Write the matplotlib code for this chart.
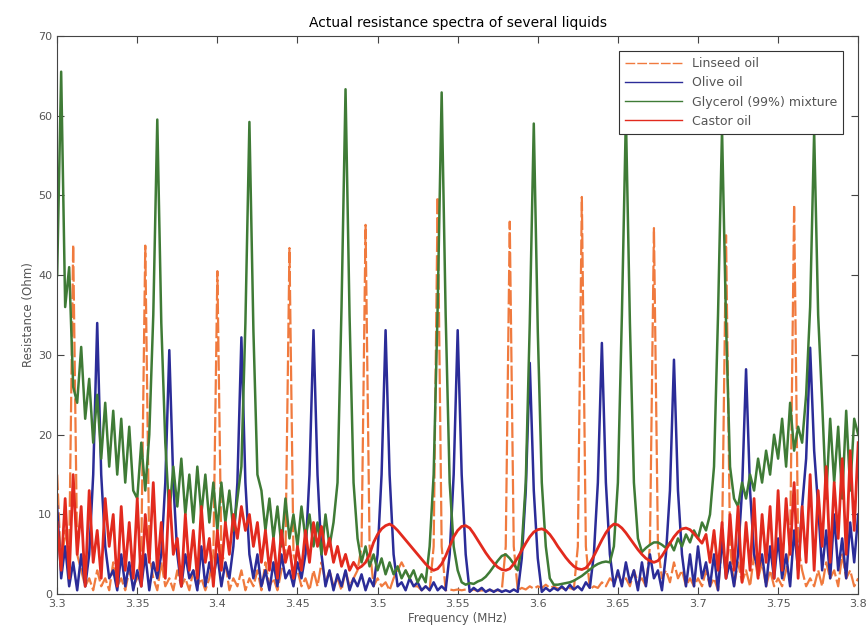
import numpy as np
import matplotlib.pyplot as plt

# sweep 3.3 - 3.8 MHz, one sample every 2.5 kHz (20 samples per row below)
freq_mhz = np.linspace(3.3, 3.8, 201)

linseed_oil = [
    15, 3, 8, 5, 43.8, 5, 3, 1, 2, 0.5, 3, 1, 2, 0.5, 4, 1, 2, 0.5, 3, 1,
    2, 5, 43.7, 5, 2, 0.5, 4, 1, 2, 0.5, 3, 1, 2, 0.5, 3, 1, 2, 0.5, 2, 5,
    40.5, 5, 4, 0.5, 2, 1, 3, 0.5, 2, 1, 3, 0.5, 4, 1, 2, 0.5, 3, 5, 43.4, 5,
    3, 1, 2, 0.5, 3, 1, 4, 1.5, 3, 1, 2, 0.5, 3, 1, 2, 3, 6, 46.3, 6, 1,
    2, 1, 1.5, 0.5, 2, 3, 4, 3, 2, 1, 1, 0.5, 1, 0.5, 6, 49.8, 6, 0.5, 0.6, 0.5,
    0.6, 0.5, 0.6, 0.4, 0.6, 0.4, 0.5, 0.4, 0.5, 0.4, 0.5, 0.4, 6, 46.7, 6, 0.5, 0.8, 0.6, 1, 0.7,
    1, 0.8, 1.2, 0.8, 1, 0.7, 0.8, 0.6, 0.8, 0.6, 6, 49.8, 6, 0.6, 1, 0.8, 1.5, 1, 2, 1.5,
    2.5, 1.5, 2, 1, 3, 1.5, 2, 1, 6, 45.9, 6, 2, 3, 1.5, 4, 2, 3, 1, 2, 1,
    2, 1, 3, 1, 2, 0.5, 6, 45, 6, 1, 4, 1.5, 3, 1, 5, 2, 4, 1, 3, 1,
    2, 1, 3, 6, 48.8, 6, 3, 1, 2, 1, 3, 1, 4, 2, 3, 1, 5, 2, 3, 1,
    2,
]

olive_oil = [
    11, 2, 6, 1, 4, 0.5, 5, 1, 5, 15, 34, 15, 6, 2, 3, 0.5, 5, 1, 4, 0.5,
    3, 1, 5, 0.5, 4, 2, 5, 14, 30.6, 14, 5, 1, 5, 2, 3, 0.5, 6, 1, 4, 2,
    5, 1, 4, 2, 6, 14, 32.2, 14, 5, 2, 5, 1, 3, 0.5, 4, 1, 5, 2, 3, 1,
    4, 2, 5, 15, 33.1, 15, 5, 1, 3, 0.5, 2.5, 1, 3, 0.5, 2, 1, 2.5, 0.5, 2, 1,
    5, 15, 33.1, 15, 5, 1, 1.5, 0.5, 2, 1, 1.5, 0.5, 1, 0.5, 1.5, 0.5, 1, 0.5, 5, 15,
    33.1, 15, 5, 0.3, 0.8, 0.4, 0.8, 0.3, 0.6, 0.3, 0.6, 0.3, 0.5, 0.3, 0.6, 0.3, 4.5, 13, 29, 13,
    4.5, 0.3, 0.8, 0.4, 0.8, 0.5, 1, 0.5, 1.2, 0.6, 1, 0.5, 1.5, 0.8, 5, 14, 31.5, 14, 5, 1,
    3, 1, 4, 1.5, 3, 0.5, 4, 1, 5, 2, 3, 0.5, 5, 13, 29.4, 13, 5, 1, 5, 1,
    6, 2, 4, 1, 5, 0.5, 7, 2, 4, 1, 5, 13, 28.2, 13, 5, 3, 5, 1, 6, 2,
    7, 2, 5, 1, 8, 3, 11, 17, 30.9, 18, 11, 3, 8, 2, 10, 3, 7, 2, 9, 4,
    10,
]

glycerol_mix = [
    40, 65.5, 36, 41, 26, 24, 31, 22, 27, 19, 25, 17, 24, 16, 23, 15, 22, 14, 21, 13,
    12, 19, 13, 20, 35, 59.5, 34, 19, 10, 16, 11, 17, 10, 15, 9, 16, 10, 15, 9, 14,
    8, 14, 9, 13, 8, 12, 16, 34, 59.2, 33, 15, 13, 8, 12, 7, 11, 6, 12, 7, 10,
    6, 11, 7, 10, 6, 9, 5, 10, 6, 9, 14, 36, 63.3, 35, 14, 7, 4, 6, 3.5, 5,
    3, 4.5, 2.5, 4, 2.5, 3.5, 2, 3, 2, 3, 1.5, 2.5, 1.5, 6, 15, 36, 62.9, 35, 14, 6,
    3, 1.5, 1.2, 1.4, 1.3, 1.6, 1.8, 2.2, 2.8, 3.5, 4.2, 4.8, 5, 4.5, 3.8, 3, 6, 14, 34, 59,
    33, 14, 6, 2, 1.2, 1.2, 1.3, 1.4, 1.5, 1.7, 2, 2.3, 2.7, 3.1, 3.5, 3.8, 4, 4.1, 4, 6,
    14, 35, 60, 34, 14, 7, 5.3, 5.8, 6.2, 6.5, 6.5, 6.2, 5.8, 6.5, 5.5, 7, 6, 7.5, 6.5, 8,
    7, 9, 8, 10, 16, 35, 58.3, 34, 16, 12, 11, 14, 12, 15, 13, 17, 14, 18, 15, 20,
    17, 22, 16, 24, 18, 21, 19, 25, 36, 58, 35, 24, 12, 22, 14, 21, 12, 23, 13, 22,
    20,
]

castor_oil = [
    9, 3, 12, 2, 15, 5, 11, 1, 13, 4, 8, 2, 12, 6, 10, 1, 11, 3, 9, 2,
    12, 1, 10, 4, 14, 3, 9, 2, 13, 5, 7, 1, 10, 3, 8, 2, 11, 4, 7, 1,
    8, 3, 9, 5, 10, 7, 11, 8, 10, 6, 9, 4, 8, 3, 7, 2, 8, 4, 6, 2,
    6, 3, 8, 4, 9, 6, 8.5, 5, 7, 4, 6, 3.5, 5, 3, 4, 3.2, 3.5, 4, 5, 6.5,
    7.5, 8.2, 8.6, 8.8, 8.5, 8, 7.4, 6.8, 6.2, 5.6, 5, 4.4, 3.8, 3.3, 3, 3.2, 3.8, 4.8, 6, 7.2,
    8, 8.5, 8.6, 8.3, 7.6, 6.8, 6, 5.2, 4.5, 3.9, 3.4, 3.1, 3, 3.2, 3.8, 4.6, 5.5, 6.4, 7.2, 7.8,
    8.1, 8.2, 8, 7.5, 6.8, 6, 5.3, 4.6, 4, 3.5, 3.2, 3.1, 3.3, 3.9, 4.8, 5.8, 6.8, 7.7, 8.4, 8.8,
    8.7, 8.3, 7.7, 7, 6.3, 5.6, 5, 4.5, 4.2, 4, 4.2, 4.8, 5.6, 6.4, 7.2, 7.8, 8.2, 8.3, 8.1, 7.6,
    7, 6.4, 7.5, 4, 8, 3, 9, 2, 10, 3, 11, 1.5, 9, 3, 12, 2, 10, 4, 11, 2,
    13, 3, 12, 5, 14, 2, 11, 4, 15, 3, 13, 6, 16, 4, 14, 7, 17, 5, 18, 8,
    19,
]

series = [
    ("Linseed oil", linseed_oil, "#f07a3e", (0, (7, 1.5)), 1.6),
    ("Olive oil", olive_oil, "#2b2c98", "-", 1.8),
    ("Glycerol (99%) mixture", glycerol_mix, "#3f7b36", "-", 1.8),
    ("Castor oil", castor_oil, "#e22a1e", "-", 2.0),
]

fig = plt.figure(figsize=(8.66, 6.39), dpi=100)
ax = fig.add_axes([0.066, 0.070, 0.925, 0.874])

for name, values, color, style, width in series:
    ax.plot(freq_mhz, values, color=color, linestyle=style, linewidth=width, label=name)

ax.set_xlim(3.3, 3.8)
ax.set_ylim(0, 70)
ax.set_xticks(np.arange(3.3, 3.801, 0.05))
ax.set_xticklabels(["3.3", "3.35", "3.4", "3.45", "3.5", "3.55",
                    "3.6", "3.65", "3.7", "3.75", "3.8"])
ax.set_yticks(range(0, 71, 10))
ax.tick_params(direction="in", top=True, right=True, length=5,
               labelsize=8, labelcolor="#555555", color="#444444")
for spine in ax.spines.values():
    spine.set_color("#444444")
    spine.set_linewidth(0.8)

ax.set_title("Actual resistance spectra of several liquids", fontsize=10, pad=6)
ax.set_xlabel("Frequency (MHz)", fontsize=8.5, color="#555555", labelpad=2)
ax.set_ylabel("Resistance (Ohm)", fontsize=8.5, color="#555555", labelpad=2)

leg = ax.legend(loc="upper right", fontsize=9, handlelength=4.5,
                fancybox=False, borderaxespad=1.2, labelspacing=0.5,
                borderpad=0.5)
leg.get_frame().set_edgecolor("#333333")
leg.get_frame().set_linewidth(0.8)
leg.get_frame().set_alpha(1)
for line in leg.get_lines():
    line.set_linewidth(1.0)
for text in leg.get_texts():
    text.set_color("#555555")

fig.savefig("out.png", dpi=100)
